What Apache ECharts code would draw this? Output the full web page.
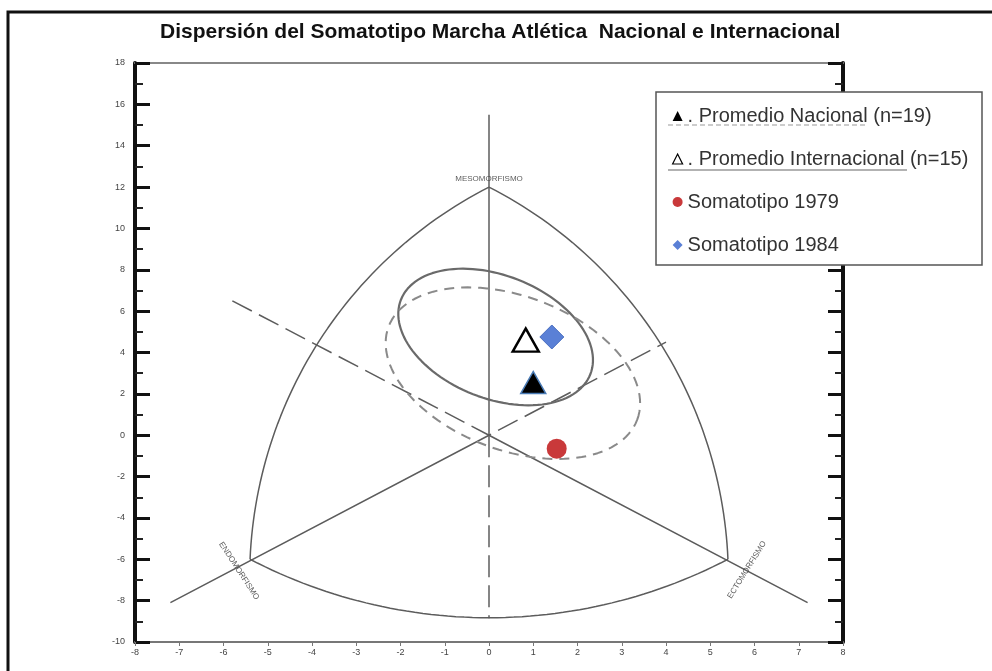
<!DOCTYPE html>
<html>
<head>
<meta charset="utf-8">
<title>Dispersión del Somatotipo</title>
<script src="https://cdn.jsdelivr.net/npm/echarts@6/dist/echarts.min.js"></script>
<style>
  html, body { margin: 0; padding: 0; background: #fff; }
  #chart { width: 992px; height: 671px; }
</style>
</head>
<body>
<div id="chart"></div>
<script>
// somatotipo medio de cada grupo (x = ecto - endo, y = 2*meso - endo - ecto)
const nacional = [[1.0, 2.55]];
const internacional = [[0.83, 4.6]];
const soma1979 = [[1.53, -0.65]];
const soma1984 = [[1.42, 4.75]];

// rangos de los ejes
const xRange = [-8, 8];
const yRange = [-10, 18];

// vértices de la somatocarta
const mesoVertex = [0, 12];
const endoVertex = [-5.4, -6];
const ectoVertex = [5.4, -6];

// ejes internos de la somatocarta
const solidLines = [
  [[0, 0], [0, 15.5]],
  [[-7.2, -8.1], [0, 0], [7.2, -8.1]]
];
const dashedLines = [
  [[0, 0], [0, -8.85]],
  [[-5.8, 6.5], [0, 0], [4.0, 4.5]]
];

// elipses de dispersión: [cx, cy, semieje a, semieje b, giro en grados]
const elipseInternacional = [0.15, 4.75, 2.30, 1.39, 21.5];
const elipseNacional = [0.54, 3.0, 3.0, 1.74, 20.5];

// rótulos de los vértices
const vertexNames = ['MESOMORFISMO', 'ENDOMORFISMO', 'ECTOMORFISMO'];
const vertexLabelPos = [[0, 12.38], [-5.65, -6.56], [5.83, -6.51]];
const vertexLabelRot = [0, -57, 58];

const FONT = 'Liberation Sans, Arial, sans-serif';
const grid = { left: 135, right: 149, top: 63, bottom: 29 };
const gridW = 992 - grid.left - grid.right;
const gridH = 671 - grid.top - grid.bottom;
// px por unidad en y / px por unidad en x
const ASPECT = (gridH / (yRange[1] - yRange[0])) / (gridW / (xRange[1] - xRange[0]));

const centroid = [
  (mesoVertex[0] + endoVertex[0] + ectoVertex[0]) / 3,
  (mesoVertex[1] + endoVertex[1] + ectoVertex[1]) / 3 * ASPECT
];

// arco circular (en espacio isótropo) entre dos vértices
function arcPoints(p, q, sag, n) {
  const P = [p[0], p[1] * ASPECT], Q = [q[0], q[1] * ASPECT];
  const mx = (P[0] + Q[0]) / 2, my = (P[1] + Q[1]) / 2;
  const dx = Q[0] - P[0], dy = Q[1] - P[1];
  const L = Math.hypot(dx, dy);
  let nx = -dy / L, ny = dx / L;
  if ((mx - centroid[0]) * nx + (my - centroid[1]) * ny < 0) { nx = -nx; ny = -ny; }
  const R = (L * L / 4 + sag * sag) / (2 * sag);
  const cx = mx + nx * (sag - R), cy = my + ny * (sag - R);
  const a0 = Math.atan2(P[1] - cy, P[0] - cx);
  const a1 = Math.atan2(Q[1] - cy, Q[0] - cx);
  let da = a1 - a0;
  while (da > Math.PI) da -= 2 * Math.PI;
  while (da < -Math.PI) da += 2 * Math.PI;
  const pts = [];
  for (let i = 0; i <= n; i++) {
    const ang = a0 + da * i / n;
    pts.push([cx + R * Math.cos(ang), (cy + R * Math.sin(ang)) / ASPECT]);
  }
  return pts;
}

function ellipsePoints(e) {
  const [cx, cy, a, b, deg] = e;
  const phi = -deg * Math.PI / 180;
  const pts = [];
  for (let i = 0; i <= 120; i++) {
    const t = i / 120 * 2 * Math.PI;
    const X = a * Math.cos(t) * Math.cos(phi) - b * Math.sin(t) * Math.sin(phi);
    const Y = a * Math.cos(t) * Math.sin(phi) + b * Math.sin(t) * Math.cos(phi);
    pts.push([cx + X, cy + Y / ASPECT]);
  }
  return pts;
}

const lineColor = '#5c5c5c';
const lineSeries = (data, type, color, width) => ({
  type: 'line',
  data: data,
  showSymbol: false,
  symbol: 'none',
  silent: true,
  z: 2,
  lineStyle: { color: color || lineColor, width: width || 1.5, type: type || 'solid' }
});

const series = [];
solidLines.forEach(l => series.push(lineSeries(l)));
dashedLines.forEach(l => series.push(lineSeries(l, [22, 8])));
series.push(lineSeries(arcPoints(mesoVertex, endoVertex, 1.35, 60)));
series.push(lineSeries(arcPoints(mesoVertex, ectoVertex, 1.35, 60)));
series.push(lineSeries(arcPoints(endoVertex, ectoVertex, 1.32, 60)));
series.push(lineSeries(ellipsePoints(elipseInternacional), 'solid', '#6a6a6a', 2.2));
series.push(lineSeries(ellipsePoints(elipseNacional), [10, 7], '#8a8a8a', 2));

// rótulos de los vértices
series.push({
  type: 'scatter',
  symbolSize: 0,
  silent: true,
  z: 3,
  data: vertexNames.map((name, i) => ({
    name: name,
    value: vertexLabelPos[i],
    label: { rotate: vertexLabelRot[i] }
  })),
  label: {
    show: true,
    position: 'inside',
    formatter: '{b}',
    fontFamily: FONT,
    fontSize: 8,
    color: '#333'
  }
});

series.push(
  {
    name: 'Promedio Nacional (n=19)',
    type: 'scatter',
    data: nacional,
    symbol: 'triangle',
    symbolSize: [25, 22],
    z: 5,
    itemStyle: { color: '#000', borderColor: '#4a7bb5', borderWidth: 1.5, opacity: 1 }
  },
  {
    name: 'Promedio Internacional (n=15)',
    type: 'scatter',
    data: internacional,
    symbol: 'triangle',
    symbolSize: [26, 23],
    z: 5,
    itemStyle: { color: '#fff', borderColor: '#000', borderWidth: 2.5, opacity: 1 }
  },
  {
    name: 'Somatotipo 1979',
    type: 'scatter',
    data: soma1979,
    symbol: 'circle',
    symbolSize: 20,
    z: 5,
    itemStyle: { color: '#c9393a', opacity: 1 }
  },
  {
    name: 'Somatotipo 1984',
    type: 'scatter',
    data: soma1984,
    symbol: 'diamond',
    symbolSize: [24, 24],
    z: 5,
    itemStyle: { color: '#5a80d6', borderColor: '#4a6fc0', borderWidth: 1, opacity: 1 }
  }
);

const yAxisBase = {
  type: 'value',
  min: yRange[0],
  max: yRange[1],
  interval: 2,
  axisLine: { show: true, onZero: false, lineStyle: { color: '#111', width: 4 } },
  axisTick: { show: true, inside: true, length: 15, lineStyle: { color: '#111', width: 3 } },
  minorTick: { show: true, splitNumber: 2, length: 8, lineStyle: { color: '#222', width: 2 } },
  splitLine: { show: false },
  minorSplitLine: { show: false }
};

const chart = echarts.init(document.getElementById('chart'));
chart.setOption({
  animation: false,
  backgroundColor: '#fff',
  title: {
    text: 'Dispersión del Somatotipo Marcha Atlética  Nacional e Internacional',
    left: 155,
    top: 17,
    textStyle: { fontFamily: FONT, fontSize: 21, fontWeight: 'bold', color: '#111' }
  },
  grid: Object.assign({ containLabel: false, outerBoundsMode: 'none' }, grid),
  xAxis: [
    {
      type: 'value',
      min: xRange[0],
      max: xRange[1],
      interval: 1,
      position: 'bottom',
      axisLine: { show: true, onZero: false, lineStyle: { color: '#777', width: 2 } },
      axisTick: { show: true, length: 4, lineStyle: { color: '#777' } },
      axisLabel: { fontFamily: FONT, fontSize: 9, color: '#444', margin: 6 },
      splitLine: { show: false }
    },
    {
      type: 'value',
      min: xRange[0],
      max: xRange[1],
      position: 'top',
      axisLine: { show: true, onZero: false, lineStyle: { color: '#888', width: 2 } },
      axisTick: { show: false },
      axisLabel: { show: false },
      splitLine: { show: false }
    }
  ],
  yAxis: [
    Object.assign({}, yAxisBase, {
      position: 'left',
      axisLabel: { fontFamily: FONT, fontSize: 9, color: '#444', margin: 10 }
    }),
    Object.assign({}, yAxisBase, {
      position: 'right',
      axisLabel: { show: false }
    })
  ],
  legend: {
    orient: 'vertical',
    left: 667,
    top: 101,
    z: 10,
    itemWidth: 10,
    itemHeight: 10,
    itemGap: 23,
    selectedMode: false,
    textStyle: { fontFamily: FONT, fontSize: 20, lineHeight: 20, color: '#333' },
    formatter: name => name.indexOf('Promedio') === 0 ? '. ' + name : name,
    data: [
      { name: 'Promedio Nacional (n=19)', itemStyle: { borderWidth: 0 } },
      { name: 'Promedio Internacional (n=15)', itemStyle: { borderWidth: 1.2 } },
      { name: 'Somatotipo 1979' },
      { name: 'Somatotipo 1984', itemStyle: { borderWidth: 0 } }
    ]
  },
  graphic: [
    {
      type: 'rect',
      z: 1,
      shape: { x: 8, y: 12, width: 1000, height: 700 },
      style: { fill: null, stroke: '#111', lineWidth: 3 }
    },
    {
      type: 'rect',
      z: 8,
      shape: { x: 656, y: 92, width: 326, height: 173 },
      style: { fill: '#fff', stroke: '#555', lineWidth: 1.5 }
    },
    {
      type: 'line',
      z: 11,
      shape: { x1: 668, y1: 125, x2: 866, y2: 125 },
      style: { stroke: '#999', lineWidth: 1.2, lineDash: [5, 3] }
    },
    {
      type: 'line',
      z: 11,
      shape: { x1: 668, y1: 170, x2: 907, y2: 170 },
      style: { stroke: '#666', lineWidth: 1.2 }
    }
  ],
  series: series
});
</script>
</body>
</html>
